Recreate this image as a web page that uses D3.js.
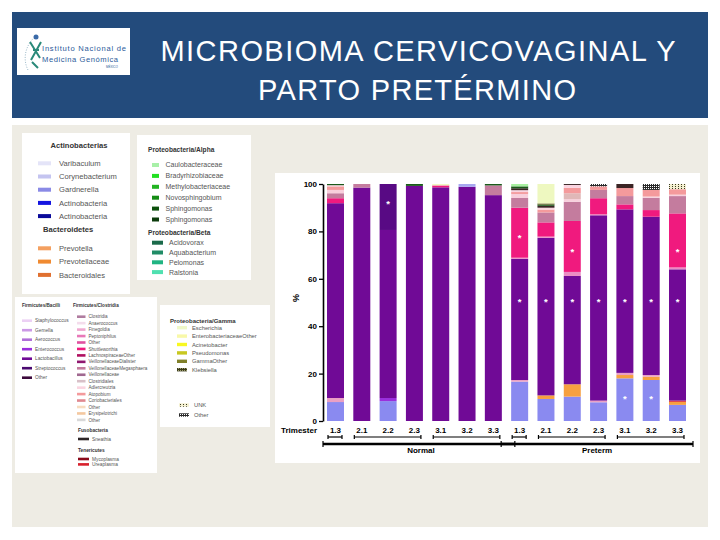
<!DOCTYPE html>
<html><head><meta charset="utf-8">
<script src="https://cdn.jsdelivr.net/npm/d3@7"></script>
<style>body{margin:0;background:#fff} svg{display:block}</style>
</head><body><svg id="c" width="720" height="540"></svg>
<script>
// ---------- DATA ----------
const titleLines = ["MICROBIOMA CERVICOVAGINAL Y", "PARTO PRETÉRMINO"];
const groupNames = ["Normal", "Preterm"];
const trimesterLabels = ["1.3","2.1","2.2","2.3","3.1","3.2","3.3"];
const trimesterGroups = [["1.3"],["2.1","2.2","2.3"],["3.1","3.2","3.3"]];
const yTicks = [0, 20, 40, 60, 80, 100];

// series values (% relative abundance), order: Normal 1.3..3.3, Preterm 1.3..3.3
const gardnerella     = [8.0, 0, 8.4, 0, 0, 0, 0, 16.6, 9.3, 10.3, 7.9, 18.0, 17.3, 6.8];
const prevotella      = [0, 0, 0, 0, 0, 0, 0, 0, 1.5, 5.2, 0, 1.4, 1.4, 1.3];
const ureaplasma      = [0, 0, 0, 0, 0, 0, 0, 0, 0, 0, 0, 0, 0, 0.5];
const veillonellaceae = [1.7, 0, 0, 0, 0, 0, 0, 0.7, 0, 0, 0.7, 0.9, 0.7, 0];
const enterococcus    = [0, 0, 1.3, 0, 0, 0, 0, 0, 0, 0, 0, 0, 0, 0];
const lactobacillus   = [82.2, 98.5, 70.9, 99.2, 98.6, 98.8, 95.3, 51.1, 66.5, 45.7, 78.2, 69.0, 66.8, 55.4];
const streptococcus   = [0, 0, 19.4, 0, 0, 0, 0, 0, 0, 0, 0, 0, 0, 0];
const dialister       = [0, 0, 0, 0, 0, 0, 0, 0.5, 0.5, 1.7, 0.4, 0, 0, 0.8];
const shuttleworthia  = [2.1, 0, 0, 0, 0.8, 0, 0, 21.1, 6.0, 21.5, 6.8, 2.1, 2.8, 22.8];
const megasphaera     = [2.1, 1.5, 0, 0, 0, 0, 4.1, 4.1, 4.2, 8.1, 3.5, 3.5, 5.2, 7.3];
const anaerococcus    = [1.4, 0, 0, 0, 0, 0, 0, 1.7, 0, 1.1, 0, 0, 0.5, 0.6];
const clostridiales   = [0, 0, 0, 0, 0, 0, 0, 0, 0, 2.5, 0, 0, 0, 0];
const atopobium       = [1.5, 0, 0, 0, 0, 0, 0, 0.8, 1.2, 2.3, 1.5, 3.4, 2.8, 2.3];
const adlercreutzia   = [0.5, 0, 0, 0, 0, 0, 0, 0.8, 0.8, 1.2, 0, 0, 0, 0];
const corynebacterium = [0, 0, 0, 0, 0, 1.2, 0, 0, 0, 0, 0, 0, 0, 0];
const sneathia        = [0, 0, 0, 0, 0, 0, 0, 0.8, 0.8, 0.4, 0, 1.7, 0, 0];
const sphingomonas    = [0.5, 0, 0, 0.8, 0, 0, 0.6, 0.8, 0.5, 0, 0, 0, 0, 0];
const gammaOther      = [0, 0, 0, 0, 0, 0, 0, 0, 0.5, 0, 0, 0, 0, 0];
const caulobacteraceae= [0, 0, 0, 0, 0, 0, 0, 1.0, 0, 0, 0, 0, 0, 0];
const escherichia     = [0, 0, 0, 0, 0.6, 0, 0, 0, 8.2, 0, 0, 0, 0, 0];
const otherTaxa       = [0, 0, 0, 0, 0, 0, 0, 0, 0, 0, 1.0, 0, 2.5, 0];
const unknown         = [0, 0, 0, 0, 0, 0, 0, 0, 0, 0, 0, 0, 0, 2.2];

// significance marks: bar index + value where the asterisk sits
const starBars   = [2, 7, 8, 9, 10, 11, 12, 13, 7, 9, 13, 11, 12];
const starValues = [92.5, 51.3, 51.3, 51.3, 51.3, 51.3, 51.3, 51.3, 78.2, 72.2, 72.2, 10.3, 10.3];

// legends
const actinoNames = ["Varibaculum","Corynebacterium","Gardnerella","Actinobacteria","Actinobacteria"];
const bacteroNames = ["Prevotella","Prevotellaceae","Bacteroidales"];
const alphaNames = ["Caulobacteraceae","Bradyrhizobiaceae","Methylobacteriaceae","Novosphingobium","Sphingomonas","Sphingomonas"];
const betaNames = ["Acidovorax","Aquabacterium","Pelomonas","Ralstonia"];
const bacilliNames = ["Staphylococcus","Gemella","Aerococcus","Enterococcus","Lactobacillus","Streptococcus","Other"];
const clostridiaNames = ["Clostridia","Anaerococcus","Finegoldia","Peptoniphilus","Other","Shuttleworthia","LachnospiraceaeOther","VeillonellaceaeDialister","VeillonellaceaeMegasphaera","Veillonellaceae","Clostridiales","Adlercreutzia","Atopobium","Coriobacteriales","Other","Erysipelotrichi","Other"];
const fusoNames = ["Sneathia"];
const teneNames = ["Mycoplasma","Ureaplasma"];
const gammaNames = ["Escherichia","EnterobacteriaceaeOther","Acinetobacter","Pseudomonas","GammaOther","Klebsiella"];
const extraNames = ["UNK","Other"];

// ---------- STYLES ----------
const actinoColors = ["#e4e4f8","#c4c4f0","#8a8ae6","#1414e0","#0a0a9a"];
const bacteroColors = ["#f4a060","#f08a30","#e07030"];
const alphaColors = ["#a8f0a8","#22e022","#22b422","#148c14","#0c500c","#0c3c0c"];
const betaColors = ["#1a6a4a","#208c66","#20b482","#50e0b0"];
const bacilliColors = ["#ecd0f4","#cc99e6","#b070d8","#9a30dc","#700a96","#4a0a70","#3c0a3c"];
const clostridiaColors = ["#b07ca0","#f4dcec","#f0a8d0","#e878b8","#e050a0","#f01a7e","#b01060","#901870","#c47c9e","#a06890","#d8c0c8","#fad4e0","#f49a9c","#e08890","#f8dcc0","#f4c8a0","#d8d8d8"];
const fusoColors = ["#2e2626"];
const teneColors = ["#8a0a1a","#d8202c"];
const gammaColors = ["#f0f8c8","#f8f8a8","#f8f820","#c8c820","#80802a","url(#patKleb)"];
const extraColors = ["url(#patUnk)","url(#patOther)"];

const seriesKeys = ["Gardnerella","Prevotella","Ureaplasma","Veillonellaceae","Enterococcus","Lactobacillus","Streptococcus","Dialister","Shuttleworthia","Megasphaera","Anaerococcus","Clostridiales","Atopobium","Adlercreutzia","Corynebacterium","Sneathia","Sphingomonas","GammaOther","Caulobacteraceae","Escherichia","Other","UNK"];
const seriesValues = {Gardnerella:gardnerella, Prevotella:prevotella, Ureaplasma:ureaplasma, Veillonellaceae:veillonellaceae, Enterococcus:enterococcus, Lactobacillus:lactobacillus, Streptococcus:streptococcus, Dialister:dialister, Shuttleworthia:shuttleworthia, Megasphaera:megasphaera, Anaerococcus:anaerococcus, Clostridiales:clostridiales, Atopobium:atopobium, Adlercreutzia:adlercreutzia, Corynebacterium:corynebacterium, Sneathia:sneathia, Sphingomonas:sphingomonas, GammaOther:gammaOther, Caulobacteraceae:caulobacteraceae, Escherichia:escherichia, Other:otherTaxa, UNK:unknown};
const seriesColors = {Gardnerella:"#8a8af0", Prevotella:"#f6a040", Ureaplasma:"#d8202c", Veillonellaceae:"#eaa0c4", Enterococcus:"#9a30dc", Lactobacillus:"#700a96", Streptococcus:"#580a84", Dialister:"#ea8cc4", Shuttleworthia:"#f01a7e", Megasphaera:"#c47c9e", Anaerococcus:"#f8cfdc", Clostridiales:"#e0b8b8", Atopobium:"#f49a9c", Adlercreutzia:"#fad4e0", Corynebacterium:"#a8a8f0", Sneathia:"#3a2424", Sphingomonas:"#1a5a1a", GammaOther:"#5a5a20", Caulobacteraceae:"#a8f0a0", Escherichia:"#eef8c0", Other:"url(#patOther)", UNK:"url(#patUnk)"};

// ---------- DRAW ----------
const svg = d3.select("#c");
const FONT = "'Liberation Sans', Arial, sans-serif";

const defs = svg.append("defs");
const pO = defs.append("pattern").attr("id","patOther").attr("width",2).attr("height",2).attr("patternUnits","userSpaceOnUse");
pO.append("rect").attr("width",2).attr("height",2).attr("fill","#2a2a2a");
pO.append("rect").attr("width",1).attr("height",1).attr("fill","#ffffff");
const pU = defs.append("pattern").attr("id","patUnk").attr("width",3).attr("height",2).attr("patternUnits","userSpaceOnUse");
pU.append("rect").attr("width",3).attr("height",2).attr("fill","#f4f0d0");
pU.append("rect").attr("width",1).attr("height",1).attr("fill","#3a3a20");
const pK = defs.append("pattern").attr("id","patKleb").attr("width",2).attr("height",2).attr("patternUnits","userSpaceOnUse");
pK.append("rect").attr("width",2).attr("height",2).attr("fill","#3c3c1c");
pK.append("rect").attr("width",1).attr("height",1).attr("fill","#a0a070");

// page backgrounds
svg.append("rect").attr("width",720).attr("height",540).attr("fill","#ffffff");
svg.append("rect").attr("x",12).attr("y",12).attr("width",696).attr("height",106).attr("fill","#234b7c");
svg.append("rect").attr("x",12).attr("y",125).attr("width",696).attr("height",402).attr("fill","#eeece4");

// logo
const logo = svg.append("g");
logo.append("rect").attr("x",17).attr("y",28).attr("width",113).attr("height",47).attr("fill","#ffffff");
logo.append("path").attr("d","M28 70 C 22 58, 26 44, 36 36").attr("fill","none").attr("stroke","#9ab8c8").attr("stroke-width",1).attr("stroke-dasharray","1,1.5");
logo.append("path").attr("d","M30 42 L40 58 M41 42 L31 60 M33 50 L39 50 M32 62 L38 68").attr("fill","none").attr("stroke","#2a8a7a").attr("stroke-width",2);
logo.append("circle").attr("cx",36).attr("cy",37).attr("r",2.5).attr("fill","#3a6aa8");
logo.append("text").attr("x",42).attr("y",51).attr("font-family",FONT).attr("font-size",7.6).attr("fill","#2a5a9a").attr("textLength",84).text("Instituto Nacional de");
logo.append("text").attr("x",42).attr("y",62).attr("font-family",FONT).attr("font-size",7.6).attr("fill","#2a5a9a").attr("textLength",76).text("Medicina Genómica");
logo.append("text").attr("x",106).attr("y",68).attr("font-family",FONT).attr("font-size",3).attr("fill","#2a5a9a").text("MÉXICO");

// title
svg.append("text").attr("x",418).attr("y",61).attr("text-anchor","middle")
  .attr("font-family",FONT).attr("font-size",29).attr("fill","#ffffff")
  .attr("textLength",515).attr("lengthAdjust","spacing").text(titleLines[0]);
svg.append("text").attr("x",417).attr("y",100).attr("text-anchor","middle")
  .attr("font-family",FONT).attr("font-size",29).attr("fill","#ffffff")
  .attr("textLength",318).attr("lengthAdjust","spacing").text(titleLines[1]);

// white panels
const panels = [[22,133,108,161],[137,135,114,145],[15,297,142,176],[160,305,110,122],[275,173,425,290]];
panels.forEach(p => svg.append("rect").attr("x",p[0]).attr("y",p[1]).attr("width",p[2]).attr("height",p[3]).attr("fill","#ffffff"));

// legend helper
function legend(names, colors, x0, y0, dy, sw, sh, gap, fs) {
  const g = svg.append("g");
  names.forEach((n,i) => {
    const yy = y0 + i*dy;
    g.append("rect").attr("x",x0).attr("y",yy - sh/2).attr("width",sw).attr("height",sh).attr("fill",colors[i]);
    g.append("text").attr("x",x0+sw+gap).attr("y",yy).attr("dy","0.35em")
      .attr("font-family",FONT).attr("font-size",fs).attr("fill","#555").text(n);
  });
}
function heading(t, x, y, fs, anchor) {
  svg.append("text").attr("x",x).attr("y",y).attr("dy","0.35em").attr("text-anchor",anchor||"start")
    .attr("font-family",FONT).attr("font-size",fs).attr("font-weight","bold").attr("fill","#333").text(t);
}
heading("Actinobacterias", 79, 145, 7.6, "middle");
legend(actinoNames, actinoColors, 38, 163.3, 13.2, 13, 4, 8, 7.6);
heading("Bacteroidetes", 43, 229.5, 7.6);
legend(bacteroNames, bacteroColors, 38, 248.3, 13.3, 13, 4, 8, 7.6);

heading("Proteobacteria/Alpha", 148, 150, 6.6);
legend(alphaNames, alphaColors, 152, 165, 10.9, 7, 4, 6.5, 7);
heading("Proteobacteria/Beta", 148, 232.7, 6.6);
legend(betaNames, betaColors, 152, 242.7, 9.8, 11, 4, 6, 7);

heading("Firmicutes/Bacilli", 22, 305, 4.6);
legend(bacilliNames, bacilliColors, 22, 320.7, 9.5, 10, 2.6, 3, 4.8);
heading("Firmicutes/Clostridia", 73, 305, 4.6);
legend(clostridiaNames, clostridiaColors, 77, 316.7, 6.45, 8.5, 2.6, 3, 4.6);
heading("Fusobacteria", 78, 430.7, 4.8);
legend(fusoNames, fusoColors, 78, 439, 6, 11, 2.6, 3, 4.8);
heading("Tenericutes", 78, 450.7, 4.8);
legend(teneNames, teneColors, 78, 459, 5.4, 11, 2.6, 3, 4.8);

heading("Proteobacteria/Gamma", 170, 320.7, 6);
legend(gammaNames, gammaColors, 177, 327.7, 8.4, 10, 3.4, 5, 5.8);
legend(extraNames, extraColors, 179, 405, 10, 10, 3.4, 5, 5.8);

// ---------- CHART ----------
const categories = groupNames.flatMap(g => trimesterLabels.map(t => g + " " + t));
const table = categories.map((c,i) => {
  const row = {cat: c};
  seriesKeys.forEach(k => row[k] = seriesValues[k][i]);
  return row;
});
const stacked = d3.stack().keys(seriesKeys)(table);

const x = d3.scaleBand().domain(categories).range([323, 690]).paddingInner(0.354).paddingOuter(0.152);
const y = d3.scaleLinear().domain([0,100]).range([421,184]);

const chart = svg.append("g");
chart.selectAll("g.layer").data(stacked).join("g").attr("class","layer")
  .attr("fill", d => seriesColors[d.key])
  .selectAll("rect").data(d => d.filter(s => s[1] - s[0] > 0)).join("rect")
  .attr("x", d => x(d.data.cat)).attr("width", x.bandwidth())
  .attr("y", d => y(d[1])).attr("height", d => y(d[0]) - y(d[1]));

// asterisks
starBars.forEach((b,i) => {
  chart.append("text").attr("x", x(categories[b]) + x.bandwidth()/2).attr("y", y(starValues[i]) + 5.5)
    .attr("text-anchor","middle").attr("font-family",FONT).attr("font-size",9.5).attr("font-weight","bold")
    .attr("fill","#ffffff").text("*");
});

// y axis
const yAxis = chart.append("g").attr("transform","translate(323,0)")
  .call(d3.axisLeft(y).tickValues(yTicks).tickSize(4).tickPadding(2).tickSizeOuter(0));
yAxis.select(".domain").attr("stroke","#000").attr("stroke-width",1.6);
yAxis.selectAll(".tick line").attr("stroke","#000").attr("stroke-width",1.3);
yAxis.selectAll(".tick text").attr("font-family",FONT).attr("font-size",8).attr("font-weight","bold").attr("fill","#000");
chart.append("text").attr("transform","translate(299,298) rotate(-90)").attr("text-anchor","middle")
  .attr("font-family",FONT).attr("font-size",9).attr("font-weight","bold").text("%");

// x labels
chart.selectAll("text.xl").data(categories).join("text").attr("class","xl")
  .attr("x", d => x(d) + x.bandwidth()/2).attr("y", 433).attr("text-anchor","middle")
  .attr("font-family",FONT).attr("font-size",8).attr("font-weight","bold").text(d => d.split(" ")[1]);
chart.append("text").attr("x",299).attr("y",433).attr("text-anchor","middle")
  .attr("font-family",FONT).attr("font-size",8).attr("font-weight","bold").text("Trimester");

// brackets
function bracket(x1, x2, yy, w, cap) {
  chart.append("line").attr("x1",x1).attr("x2",x2).attr("y1",yy).attr("y2",yy).attr("stroke","#000").attr("stroke-width",w);
  [x1,x2].forEach(xx => chart.append("line").attr("x1",xx).attr("x2",xx).attr("y1",yy-cap).attr("y2",yy+cap).attr("stroke","#000").attr("stroke-width",1.2));
}
groupNames.forEach((g, gi) => {
  trimesterGroups.forEach(tg => {
    const a = x(g + " " + tg[0]), b = x(g + " " + tg[tg.length-1]) + x.bandwidth();
    bracket(a + 1, b - 2, 437, 1.2, 2);
  });
  const first = x(g + " " + trimesterLabels[0]), last = x(g + " " + trimesterLabels[trimesterLabels.length-1]) + x.bandwidth();
  const gx1 = gi === 0 ? 323 : first - 10, gx2 = gi === 0 ? last + 13 : last + 7;
  bracket(gx1, gx2, 444, 2.4, 3);
  chart.append("text").attr("x",(gx1+gx2)/2 + (gi===0?2:0)).attr("y",453).attr("text-anchor","middle")
    .attr("font-family",FONT).attr("font-size",8).attr("font-weight","bold").text(g);
});
</script></body></html>
